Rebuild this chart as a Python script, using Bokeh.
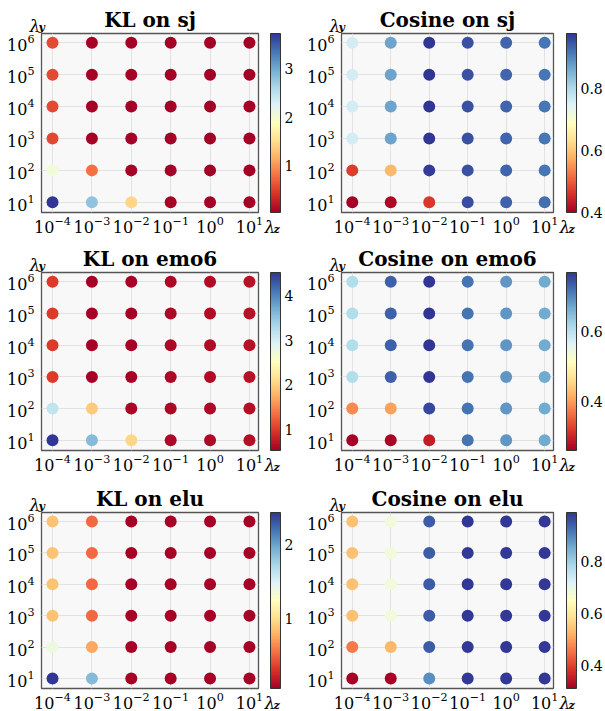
import numpy as np
from bokeh.plotting import figure
from bokeh.models import (LinearColorMapper, ColorBar, FixedTicker, ColumnDataSource,
                          LogAxis)
from bokeh.core.properties import value
from bokeh.layouts import column, row
from bokeh.embed import file_html
from bokeh.resources import INLINE

# ---------------- data ----------------
lambda_z = [1e-4, 1e-3, 1e-2, 1e-1, 1e0, 1e1]
lambda_y = [1e1, 1e2, 1e3, 1e4, 1e5, 1e6]
z_tick_labels = ["10⁻⁴", "10⁻³", "10⁻²", "10⁻¹", "10⁰", "10¹"]
y_tick_labels = ["10¹", "10²", "10³", "10⁴", "10⁵", "10⁶"]

# rows: lambda_y = 10^1 ... 10^6 ; columns: lambda_z = 10^-4 ... 10^1
kl_sj = [
    [3.73, 2.80, 1.45, 0.06, 0.05, 0.06],
    [2.05, 0.80, 0.06, 0.05, 0.05, 0.05],
    [0.55, 0.06, 0.05, 0.05, 0.05, 0.05],
    [0.56, 0.06, 0.05, 0.05, 0.05, 0.05],
    [0.56, 0.06, 0.05, 0.05, 0.04, 0.05],
    [0.57, 0.06, 0.05, 0.05, 0.05, 0.05],
]
cos_sj = [
    [0.400, 0.410, 0.465, 0.955, 0.935, 0.925],
    [0.470, 0.585, 0.970, 0.950, 0.932, 0.918],
    [0.760, 0.870, 0.975, 0.950, 0.932, 0.918],
    [0.760, 0.870, 0.975, 0.950, 0.932, 0.918],
    [0.760, 0.870, 0.975, 0.950, 0.932, 0.918],
    [0.760, 0.870, 0.977, 0.950, 0.932, 0.918],
]
kl_emo6 = [
    [4.52, 3.60, 2.05, 0.60, 0.62, 0.66],
    [3.15, 1.95, 0.58, 0.60, 0.62, 0.66],
    [1.00, 0.55, 0.56, 0.60, 0.63, 0.68],
    [1.00, 0.55, 0.56, 0.60, 0.63, 0.68],
    [1.00, 0.55, 0.56, 0.60, 0.63, 0.68],
    [1.00, 0.53, 0.56, 0.60, 0.63, 0.68],
]
cos_emo6 = [
    [0.260, 0.265, 0.290, 0.720, 0.690, 0.670],
    [0.385, 0.405, 0.755, 0.720, 0.690, 0.670],
    [0.610, 0.735, 0.770, 0.720, 0.690, 0.670],
    [0.610, 0.735, 0.770, 0.720, 0.690, 0.670],
    [0.610, 0.735, 0.770, 0.720, 0.690, 0.670],
    [0.610, 0.735, 0.770, 0.720, 0.690, 0.670],
]
kl_elu = [
    [2.44, 1.88, 0.05, 0.05, 0.05, 0.05],
    [1.38, 0.74, 0.05, 0.05, 0.05, 0.05],
    [0.86, 0.50, 0.05, 0.05, 0.05, 0.05],
    [0.86, 0.50, 0.05, 0.05, 0.05, 0.05],
    [0.86, 0.50, 0.05, 0.05, 0.04, 0.05],
    [0.86, 0.50, 0.05, 0.05, 0.05, 0.05],
]
cos_elu = [
    [0.310, 0.315, 0.890, 0.985, 0.985, 0.985],
    [0.460, 0.530, 0.950, 0.985, 0.985, 0.985],
    [0.540, 0.680, 0.950, 0.985, 0.985, 0.985],
    [0.540, 0.680, 0.950, 0.985, 0.985, 0.985],
    [0.540, 0.680, 0.950, 0.985, 0.985, 0.985],
    [0.540, 0.680, 0.950, 0.990, 0.985, 0.985],
]

titles = ["KL on sj", "Cosine on sj", "KL on emo6", "Cosine on emo6", "KL on elu", "Cosine on elu"]
panel_values = [kl_sj, cos_sj, kl_emo6, cos_emo6, kl_elu, cos_elu]
cbar_ticks = [[1, 2, 3], [0.4, 0.6, 0.8], [1, 2, 3, 4], [0.4, 0.6], [1, 2], [0.4, 0.6, 0.8]]

# ---------------- style ----------------
anchors = ['#a50026', '#d73027', '#f46d43', '#fdae61', '#fee090', '#ffffbf',
           '#e0f3f8', '#abd9e9', '#74add1', '#4575b4', '#313695']
rgb = np.array([[int(c[i:i + 2], 16) for i in (1, 3, 5)] for c in anchors], float)
pos = np.linspace(0, 1, len(anchors))
palette = ['#%02x%02x%02x' % tuple(int(round(np.interp(t, pos, rgb[:, k]))) for k in range(3))
           for t in np.linspace(0, 1, 256)]

FONT = "DejaVu Serif"
X_LO, X_HI = 10 ** -4.28, 10 ** 1.23
Y_LO, Y_HI = 10 ** 0.68, 10 ** 6.29


def key(v):
    return np.format_float_positional(v, trim='-')


def make_panel(idx, width, height, b_left, b_right, b_top, b_bottom, cb_gap):
    vals = panel_values[idx]
    xs, ys, vs = [], [], []
    for i, ly in enumerate(lambda_y):
        for j, lz in enumerate(lambda_z):
            xs.append(lz)
            ys.append(ly)
            vs.append(vals[i][j])
    src = ColumnDataSource(dict(x=xs, y=ys, v=vs))
    mapper = LinearColorMapper(palette=palette, low=min(vs), high=max(vs))

    p = figure(width=width, height=height, x_axis_type="log", y_axis_type="log",
               x_range=(X_LO, X_HI), y_range=(Y_LO, Y_HI),
               output_backend="svg", toolbar_location=None, title=titles[idx],
               min_border_left=b_left, min_border_right=b_right,
               min_border_top=b_top, min_border_bottom=b_bottom)
    fh = height - b_top - b_bottom
    p.background_fill_color = "#f8f8f8"
    p.border_fill_color = "white"
    p.outline_line_color = "#555555"
    p.outline_line_width = 1.3

    p.title.align = "center"
    p.title.text_font = FONT
    p.title.text_font_style = "bold"
    p.title.text_font_size = "20px"
    p.title.text_color = "black"
    p.title.standoff = 4

    p.scatter("x", "y", source=src, size=12, line_color=None,
              fill_color={"field": "v", "transform": mapper})

    p.xaxis.ticker = FixedTicker(ticks=lambda_z)
    p.yaxis.ticker = FixedTicker(ticks=lambda_y)
    p.xaxis.major_label_overrides = {key(v): lab for v, lab in zip(lambda_z, z_tick_labels)}
    p.yaxis.major_label_overrides = {key(v): lab for v, lab in zip(lambda_y, y_tick_labels)}
    for ax in (p.xaxis, p.yaxis):
        ax.axis_line_color = None
        ax.major_tick_line_color = None
        ax.minor_tick_line_color = None
        ax.major_tick_out = 0
        ax.major_tick_in = 0
        ax.major_label_text_font = FONT
        ax.major_label_text_font_size = "16px"
        ax.major_label_text_color = "black"
    p.xaxis.major_label_standoff = 3
    p.yaxis.major_label_standoff = 7
    p.xgrid.grid_line_color = "#e2e2e2"
    p.ygrid.grid_line_color = "#e2e2e2"

    # invisible axis used only as a gap between the frame and the colour bar
    spacer = LogAxis(ticker=FixedTicker(ticks=[lambda_y[0]]), axis_line_color=None,
                     major_tick_line_color=None, minor_tick_line_color=None,
                     major_tick_out=cb_gap, major_tick_in=0, major_label_standoff=0,
                     major_label_overrides={key(lambda_y[0]): ""},
                     major_label_text_color=None, major_label_text_font_size="1px")
    p.add_layout(spacer, "right")

    cb = ColorBar(color_mapper=mapper, ticker=FixedTicker(ticks=cbar_ticks[idx]),
                  width=10, height=fh, padding=0, margin=0, label_standoff=4,
                  major_tick_in=0, major_tick_out=0,
                  major_label_text_font=FONT, major_label_text_font_size="14px",
                  major_label_text_color="black",
                  major_tick_line_color=None, minor_tick_line_color=None,
                  bar_line_color="#333333", bar_line_width=1,
                  border_line_color=None, background_fill_color=None)
    p.add_layout(cb, "right")

    # axis symbols, anchored at the frame corners
    sym = ColumnDataSource(dict(
        x=[X_LO, X_LO, X_HI, X_HI],
        y=[Y_HI, Y_HI, Y_LO, Y_LO],
        t=["λ", "y", "λ", "z"],
        dx=[-12, -3, 6, 15],
        dy=[-8, -6, 14, 17],
        fs=["17px", "11px", "17px", "11px"],
        st=["italic", "bold italic", "italic", "bold italic"],
    ))
    p.text("x", "y", text="t", source=sym, x_offset="dx", y_offset="dy",
           text_font=value(FONT), text_font_size="fs", text_font_style="st",
           text_color="black", text_baseline="alphabetic", text_align="left",
           level="overlay")
    return p


row_specs = [(240, 33, 28), (240, 32, 30), (231, 32, 23)]
rows = []
for r, (h, bt, bb) in enumerate(row_specs):
    left = make_panel(2 * r, 303, h, 41, 45, bt, bb, 12)
    right = make_panel(2 * r + 1, 302, h, 38, 51, bt, bb, 13)
    rows.append(row(left, right))

layout = column(*rows)
open("out.html", "w").write(file_html(layout, INLINE))
